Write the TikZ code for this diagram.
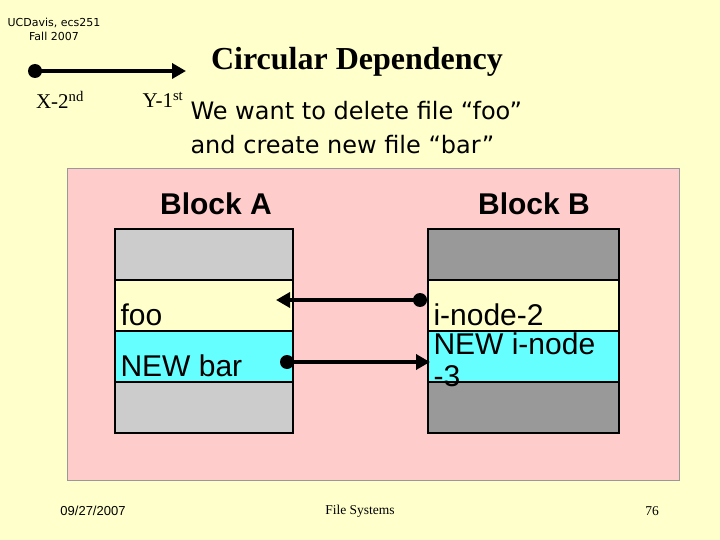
\documentclass[tikz,border=0pt]{standalone}
\usepackage{fontspec}
\setmainfont{Liberation Serif}
\newfontfamily\arial{Liberation Sans}
\newfontfamily\comic{DejaVu Sans}
\usetikzlibrary{arrows.meta}
\definecolor{bg}{RGB}{255,255,204}
\definecolor{pinkb}{RGB}{255,204,204}
\definecolor{cyanb}{RGB}{102,255,255}
\definecolor{lgray}{RGB}{204,204,204}
\definecolor{dgray}{RGB}{153,153,153}
\tikzset{cell/.style={draw=black,line width=2pt,minimum width=#1,anchor=north west,inner sep=0pt,minimum height=51pt,text depth=0pt},
 celltext/.style={font=\arial\fontsize{30}{30}\selectfont,anchor=west},
 conn/.style={line width=4.5pt,-{Triangle[length=14pt,width=15pt]}},
 dotc/.style={circle,fill=black,inner sep=0pt,minimum size=14pt}}
\begin{document}
\begin{tikzpicture}[x=1pt,y=-1pt]
\fill[bg] (0,0) rectangle (720,540);
\useasboundingbox (0,0) rectangle (720,540);
\node[font=\comic\fontsize{11}{14}\selectfont,align=center] (hdr) at (54,29) {UCDavis, ecs251\\Fall 2007};
\node[dotc] (xd) at (35,71) {};
\coordinate (ye) at (186,71);
\draw[conn] (xd.center) -- (ye);
\node[font=\fontsize{21}{21}\selectfont] (x) at (60,100) {X-2\textsuperscript{nd}};
\node[font=\fontsize{21}{21}\selectfont] (y) at (163,100) {Y-1\textsuperscript{st}};
\node[font=\bfseries\fontsize{32}{32}\selectfont] (title) at (357,62) {Circular Dependency};
\node[font=\comic\fontsize{24}{24}\selectfont,anchor=west] (l1) at (187,111) {We want to delete file “foo”};
\node[font=\comic\fontsize{24}{24}\selectfont,anchor=west] (l2) at (187,145) {and create new file “bar”};
\node[draw=dgray,fill=pinkb,anchor=north west,minimum width=612pt,minimum height=312pt,inner sep=0pt] (panel) at (67,168) {};
\node[font=\arial\bfseries\fontsize{30}{30}\selectfont] (ba) at (216,204) {Block A};
\node[font=\arial\bfseries\fontsize{30}{30}\selectfont] (bb) at (534,204) {Block B};
% Block A
\node[cell=178pt,fill=lgray] (a1) at (114,228) {};
\node[cell=178pt,fill=bg] (a2) at (114,279) {};
\node[cell=178pt,fill=cyanb] (a3) at (114,330) {};
\node[cell=178pt,fill=lgray] (a4) at (114,381) {};
\node[celltext] at ([xshift=3pt,yshift=-9pt]a2.west) {foo};
\node[celltext] at ([xshift=3pt,yshift=-9pt]a3.west) {NEW bar};
% Block B
\node[cell=191pt,fill=dgray] (b1) at (427,228) {};
\node[cell=191pt,fill=bg] (b2) at (427,279) {};
\node[cell=191pt,fill=cyanb] (b3) at (427,330) {};
\node[cell=191pt,fill=dgray] (b4) at (427,381) {};
\node[celltext] at ([xshift=3pt,yshift=-9pt]b2.west) {i-node-2};
\node[celltext,align=left,font=\arial\fontsize{30}{32}\selectfont] at ([xshift=3pt,yshift=-3pt]b3.west) {NEW i-node\\-3};
% arrows
\node[dotc] (d1) at (420,300) {};
\coordinate (h1) at (276,300);
\draw[conn] (d1.center) -- (h1);
\node[dotc] (d2) at (287,362) {};
\coordinate (h2) at (430,362);
\draw[conn] (d2.center) -- (h2);
% footer
\node[font=\arial\fontsize{13}{13}\selectfont] (date) at (93,511) {09/27/2007};
\node[font=\fontsize{13.5}{13.5}\selectfont] (fs) at (360,511) {File Systems};
\node[font=\fontsize{13.5}{13.5}\selectfont] (pg) at (652,511) {76};
\end{tikzpicture}
\end{document}
